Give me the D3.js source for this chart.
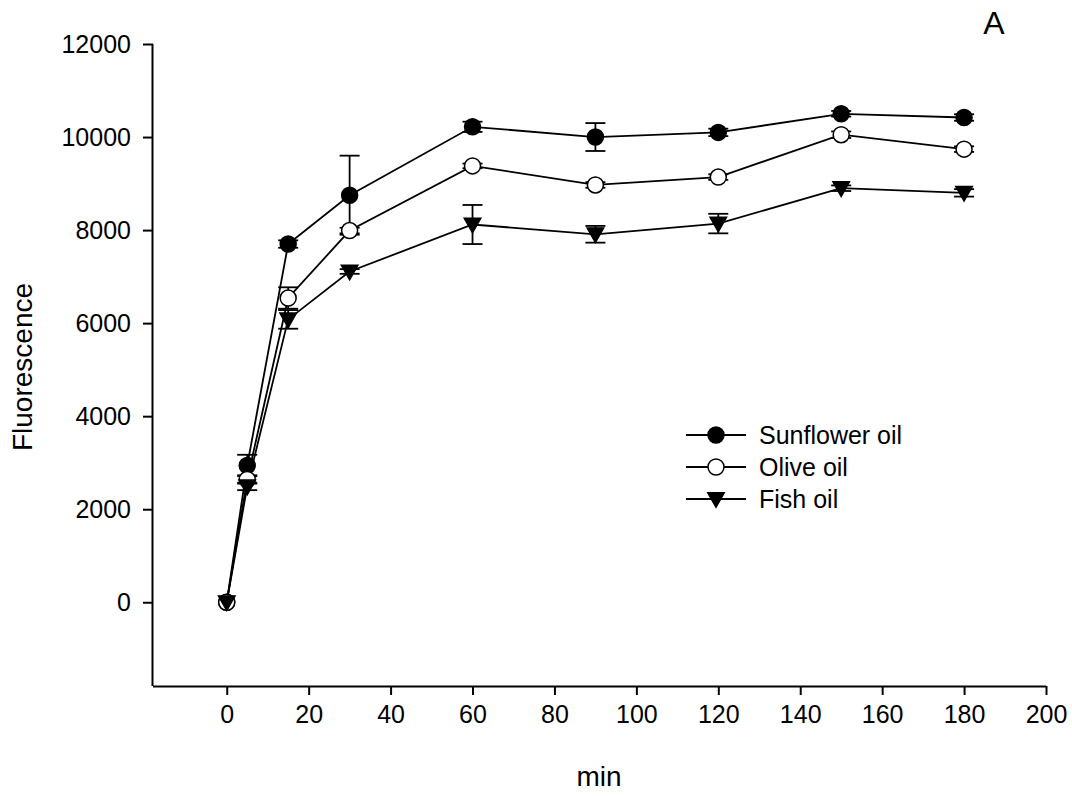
<!DOCTYPE html>
<html><head><meta charset="utf-8">
<script src="https://cdn.jsdelivr.net/npm/d3@7"></script>
<style>body{margin:0;background:#fff}svg{display:block;font-family:"Liberation Sans",Arial,sans-serif}</style>
</head><body><svg id="c" width="1072" height="796"></svg>
<script>
const times = [0, 5, 15, 30, 60, 90, 120, 150, 180];
const sunflower = [0, 2940, 7700, 8750, 10220, 10000, 10100, 10500, 10420];
const sunflowerErr = [0, 230, 80, 850, 110, 300, 80, 60, 70];
const olive = [0, 2640, 6540, 7990, 9380, 8970, 9140, 10050, 9740];
const oliveErr = [0, 90, 230, 60, 50, 60, 60, 70, 60];
const fish = [0, 2490, 6080, 7110, 8120, 7910, 8140, 8900, 8800];
const fishErr = [0, 80, 200, 50, 420, 180, 210, 60, 80];
const xTicks = [0, 20, 40, 60, 80, 100, 120, 140, 160, 180, 200];
const yTicks = [0, 2000, 4000, 6000, 8000, 10000, 12000];
const seriesNames = ["Sunflower oil", "Olive oil", "Fish oil"];

const svg = d3.select("#c");
const x = d3.scaleLinear().domain([-18, 200]).range([153, 1046]);
const y = d3.scaleLinear().domain([-1800, 12000]).range([686, 44]);

const series = [
  {name: seriesNames[0], vals: sunflower, err: sunflowerErr, sym: "circle", fill: "#000"},
  {name: seriesNames[1], vals: olive, err: oliveErr, sym: "circle", fill: "#fff"},
  {name: seriesNames[2], vals: fish, err: fishErr, sym: "tri", fill: "#000"}
];

// axes
const xAxis = d3.axisBottom(x).tickValues(xTicks).tickFormat(d3.format("d")).tickSizeOuter(0).tickSize(9).tickPadding(10);
const gx = svg.append("g").attr("transform", "translate(0,686)").call(xAxis);
gx.select(".domain").attr("d", `M${x(-18)},0.5H${x(200)}`);
const yAxis = d3.axisLeft(y).tickValues(yTicks).tickFormat(d3.format("d")).tickSizeOuter(0).tickSize(10).tickPadding(12);
const gy = svg.append("g").attr("transform", "translate(153,0)").call(yAxis);
gy.select(".domain").attr("d", `M-0.5,${y(-1800)}V${y(12000)}`);
[gx, gy].forEach(g => {
  g.selectAll("path,line").attr("stroke", "#000").attr("stroke-width", 2);
  g.selectAll("text").attr("font-size", 25).attr("fill", "#000").attr("font-family", '"Liberation Sans",Arial,sans-serif');
});

const line = d3.line().x((d, i) => x(times[i])).y(d => y(d));

function drawMarker(g, s, cx, cy) {
  if (s.sym === "circle") {
    g.append("circle").attr("cx", cx).attr("cy", cy).attr("r", 8)
      .attr("fill", s.fill).attr("stroke", "#000").attr("stroke-width", 1.5);
  } else {
    g.append("path").attr("d", `M${cx-8.5},${cy-6.5}L${cx+8.5},${cy-6.5}L${cx},${cy+8.5}Z`)
      .attr("fill", s.fill).attr("stroke", "#000").attr("stroke-width", 1.2);
  }
}

const plot = svg.append("g");
// error bars
series.forEach(s => {
  s.vals.forEach((v, i) => {
    if (!s.err[i]) return;
    const cx = x(times[i]);
    const g = plot.append("g").attr("stroke", "#000").attr("stroke-width", 1.8);
    g.append("line").attr("x1", cx).attr("x2", cx).attr("y1", y(v + s.err[i])).attr("y2", y(v - s.err[i]));
    [v + s.err[i], v - s.err[i]].forEach(e => {
      g.append("line").attr("x1", cx - 10).attr("x2", cx + 10).attr("y1", y(e)).attr("y2", y(e));
    });
  });
});
// lines
series.forEach(s => {
  plot.append("path").datum(s.vals).attr("d", line).attr("fill", "none").attr("stroke", "#000").attr("stroke-width", 1.8);
});
// markers
series.forEach(s => {
  s.vals.forEach((v, i) => drawMarker(plot, s, x(times[i]), y(v)));
});

// legend
const lg = svg.append("g");
const legY = [435, 467, 499];
series.forEach((s, i) => {
  lg.append("line").attr("x1", 686).attr("x2", 746).attr("y1", legY[i]).attr("y2", legY[i]).attr("stroke", "#000").attr("stroke-width", 1.8);
  drawMarker(lg, s, 716, legY[i]);
  lg.append("text").attr("x", 759).attr("y", legY[i]).attr("dy", "0.35em").attr("font-size", 25).text(s.name);
});

// titles
svg.append("text").attr("transform", "translate(32,367) rotate(-90)").attr("text-anchor", "middle").attr("font-size", 28).text("Fluorescence");
svg.append("text").attr("x", 599).attr("y", 786).attr("text-anchor", "middle").attr("font-size", 28).text("min");
svg.append("text").attr("x", 994).attr("y", 34).attr("text-anchor", "middle").attr("font-size", 32).text("A");
</script></body></html>
